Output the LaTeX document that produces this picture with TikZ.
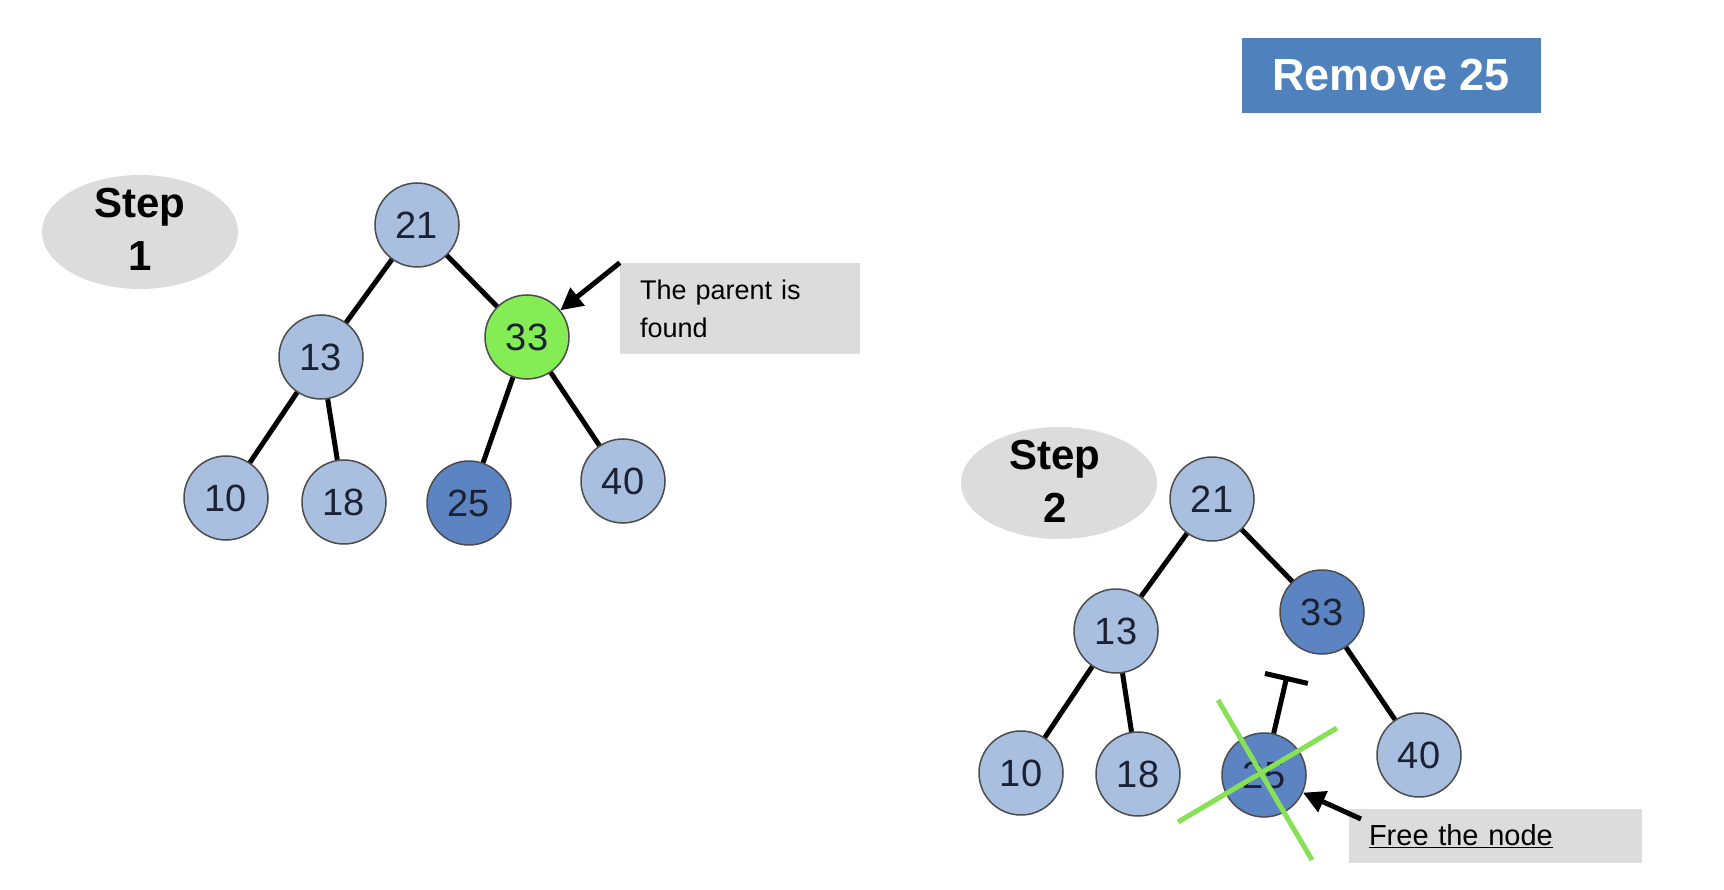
\documentclass[tikz,border=0pt]{standalone}
\usepackage{fontspec}
\setmainfont{Liberation Sans}
\usetikzlibrary{arrows.meta,shapes.geometric}
\definecolor{nodeblue}{HTML}{A9BFE0}
\definecolor{darkblue}{HTML}{5C84C2}
\definecolor{pgreen}{HTML}{84EC55}
\definecolor{boxgray}{HTML}{DCDCDC}
\definecolor{titleblue}{HTML}{4F81BD}
\definecolor{crossgreen}{HTML}{86E157}
\definecolor{numtext}{HTML}{1C2233}
\begin{document}
\begin{tikzpicture}[x=1pt,y=-1pt,
  tnode/.style={circle,draw=black!70,line width=1.5pt,fill=nodeblue,minimum size=84pt,inner sep=0pt,
    text=numtext,font=\fontsize{38}{38}\selectfont},
  dnode/.style={tnode,fill=darkblue},
  gnode/.style={tnode,fill=pgreen},
  edge/.style={line width=5pt,black},
  stepell/.style={ellipse,fill=boxgray,inner sep=0pt},
  steptext/.style={align=center,font=\bfseries\fontsize{42}{53}\selectfont},
  infobox/.style={fill=boxgray,inner ysep=0pt,inner xsep=20pt,align=left},
  callout/.style={line width=5pt,black,-{Triangle[length=22pt,width=22pt]}},
  cross/.style={line width=5pt,crossgreen},
]
\useasboundingbox (0,0) rectangle (1724,890);

% title
\node[fill=titleblue,minimum width=299pt,minimum height=75pt,inner sep=0pt,text=white,
  font=\bfseries\fontsize{45}{45}\selectfont] (title) at (1391,75.5) {Remove 25};

% ---------- Step 1 ----------
\node[stepell,minimum width=196pt,minimum height=114pt] (s1) at (140,232) {};
\node[steptext] (s1t) at (140,229) {Step\\1};

\node[tnode] (a21) at (417,225) {21};
\node[tnode] (a13) at (321,357) {13};
\node[gnode] (a33) at (527,337) {33};
\node[tnode] (a10) at (226,498) {10};
\node[tnode] (a18) at (344,502) {18};
\node[dnode] (a25) at (469,503) {25};
\node[tnode] (a40) at (623,481) {40};

\draw[edge] (a21) -- (a13);
\draw[edge] (a21) -- (a33);
\draw[edge] (a13) -- (a10);
\draw[edge] (a13) -- (a18);
\draw[edge] (a33) -- (a25);
\draw[edge] (a33) -- (a40);

\node[infobox,minimum width=240pt,minimum height=91pt,text width=200pt,
  font=\fontsize{27}{38}\selectfont] (pbox) at (740,308.5) {The parent is\\found};
\draw[callout] (pbox.north west) -- (a33);

% ---------- Step 2 ----------
\node[stepell,minimum width=196pt,minimum height=112pt] (s2) at (1059,483) {};
\node[steptext] (s2t) at (1055,481) {Step\\2};

\node[tnode] (b21) at (1212,499) {21};
\node[tnode] (b13) at (1116,631) {13};
\node[dnode] (b33) at (1322,612) {33};
\node[tnode] (b10) at (1021,773) {10};
\node[tnode] (b18) at (1138,774) {18};
\node[dnode] (b25) at (1264,775) {25};
\node[tnode] (b40) at (1419,755) {40};

\draw[edge] (b21) -- (b13);
\draw[edge] (b21) -- (b33);
\draw[edge] (b13) -- (b10);
\draw[edge] (b13) -- (b18);
\draw[edge] (b33) -- (b40);

\coordinate (cut) at (1287,676);
\draw[edge,-{Bar[width=44pt]}] (b25) -- (cut);

\coordinate (xa1) at (1218,700);
\coordinate (xa2) at (1312,860);
\coordinate (xb1) at (1178,822);
\coordinate (xb2) at (1337,728);
\draw[cross] (xa1) -- (xa2);
\draw[cross] (xb1) -- (xb2);

\node[infobox,minimum width=293pt,minimum height=54pt,text width=253pt,
  font=\fontsize{29}{29}\selectfont] (fbox) at (1495.5,836) {\underline{Free the node}};
\coordinate (fstart) at (1361,819);
\draw[callout] (fstart) -- (b25);
\end{tikzpicture}
\end{document}
